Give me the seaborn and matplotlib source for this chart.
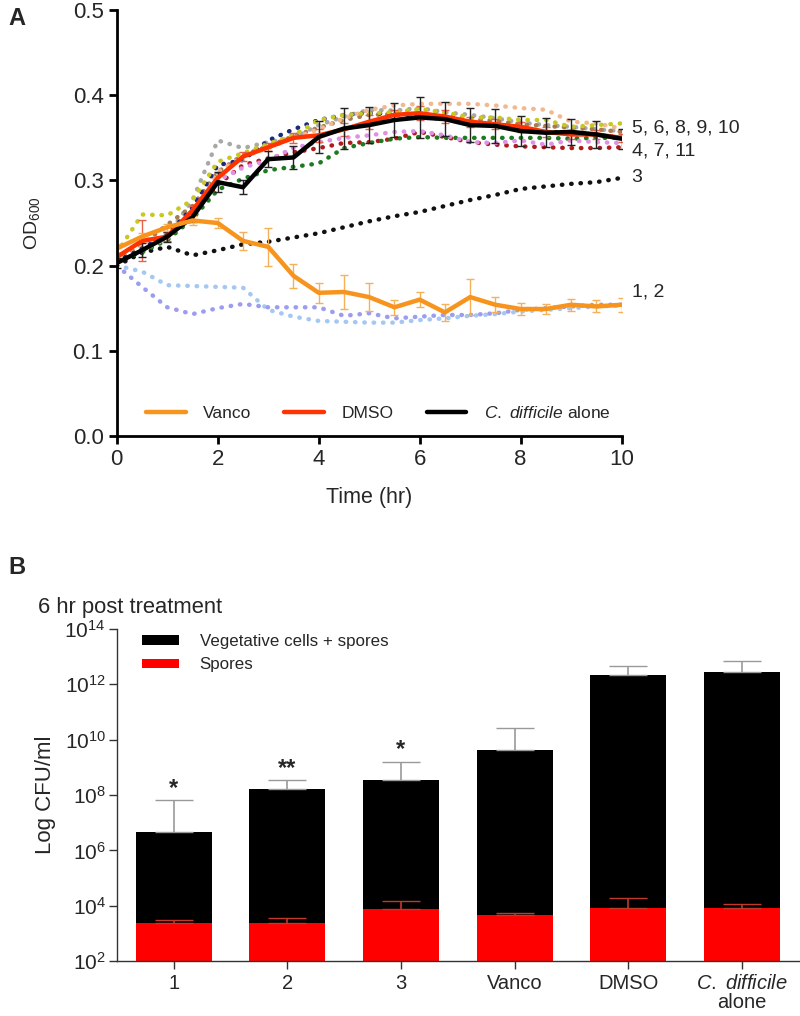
import numpy as np
import pandas as pd
import matplotlib
matplotlib.use("Agg")
import matplotlib.pyplot as plt
import seaborn as sns

# ---- panel A: growth curves (OD600) ----
hours = [0, 0.5, 1, 1.5, 2, 2.5, 3, 3.5, 4, 4.5, 5, 5.5, 6, 6.5, 7, 7.5, 8, 8.5, 9, 9.5, 10]

vanco = [0.220, 0.234, 0.245, 0.253, 0.250, 0.229, 0.222, 0.188, 0.168, 0.169, 0.163,
         0.151, 0.160, 0.145, 0.163, 0.154, 0.149, 0.149, 0.154, 0.152, 0.154]
vanco_err = [0.005, 0.004, 0.004, 0.005, 0.006, 0.011, 0.022, 0.014, 0.012, 0.020, 0.016,
             0.009, 0.009, 0.010, 0.021, 0.009, 0.007, 0.006, 0.007, 0.007, 0.008]
dmso = [0.210, 0.229, 0.234, 0.265, 0.303, 0.328, 0.339, 0.350, 0.353, 0.360, 0.369,
        0.377, 0.379, 0.375, 0.369, 0.366, 0.363, 0.357, 0.354, 0.354, 0.350]
dmso_err = [0.005, 0.024, 0.005, 0.005, 0.006, 0.005, 0.005, 0.006, 0.008, 0.008, 0.008,
            0.006, 0.008, 0.008, 0.006, 0.006, 0.006, 0.006, 0.005, 0.005, 0.005]
cd_alone = [0.203, 0.218, 0.234, 0.257, 0.298, 0.292, 0.325, 0.327, 0.351, 0.361, 0.365,
            0.371, 0.374, 0.372, 0.365, 0.364, 0.358, 0.356, 0.357, 0.354, 0.349]
cd_alone_err = [0.006, 0.008, 0.006, 0.006, 0.012, 0.008, 0.009, 0.014, 0.019, 0.024, 0.021,
                0.020, 0.024, 0.020, 0.020, 0.020, 0.018, 0.017, 0.015, 0.016, 0.012]

cmpd_1 = [0.200, 0.193, 0.177, 0.176, 0.175, 0.174, 0.148, 0.140, 0.135, 0.134, 0.133,
          0.133, 0.136, 0.138, 0.141, 0.143, 0.146, 0.148, 0.150, 0.152, 0.153]
cmpd_2 = [0.200, 0.175, 0.151, 0.143, 0.150, 0.155, 0.151, 0.151, 0.151, 0.141, 0.144,
          0.138, 0.140, 0.142, 0.142, 0.144, 0.148, 0.150, 0.152, 0.154, 0.154]
cmpd_3 = [0.200, 0.215, 0.222, 0.212, 0.218, 0.225, 0.228, 0.233, 0.238, 0.245, 0.252,
          0.258, 0.263, 0.270, 0.277, 0.283, 0.290, 0.293, 0.296, 0.298, 0.303]
cmpd_4 = [0.205, 0.220, 0.232, 0.260, 0.295, 0.318, 0.326, 0.333, 0.338, 0.344, 0.345,
          0.349, 0.357, 0.351, 0.345, 0.342, 0.340, 0.339, 0.338, 0.338, 0.339]
cmpd_7 = [0.205, 0.216, 0.230, 0.255, 0.289, 0.302, 0.312, 0.316, 0.320, 0.338, 0.344,
          0.349, 0.351, 0.350, 0.350, 0.350, 0.350, 0.350, 0.349, 0.350, 0.350]
cmpd_11 = [0.205, 0.218, 0.232, 0.262, 0.300, 0.315, 0.324, 0.338, 0.345, 0.350, 0.353,
           0.357, 0.358, 0.353, 0.345, 0.344, 0.347, 0.342, 0.347, 0.345, 0.344]
cmpd_5 = [0.205, 0.220, 0.236, 0.268, 0.318, 0.324, 0.347, 0.360, 0.371, 0.377, 0.379,
          0.378, 0.375, 0.372, 0.368, 0.364, 0.359, 0.357, 0.356, 0.354, 0.350]
cmpd_6 = [0.215, 0.260, 0.259, 0.277, 0.322, 0.332, 0.343, 0.353, 0.371, 0.377, 0.379,
          0.380, 0.384, 0.380, 0.374, 0.374, 0.371, 0.371, 0.363, 0.365, 0.367]
cmpd_8 = [0.205, 0.220, 0.235, 0.277, 0.347, 0.338, 0.345, 0.350, 0.365, 0.375, 0.383,
          0.382, 0.385, 0.380, 0.377, 0.373, 0.368, 0.365, 0.363, 0.360, 0.358]
cmpd_9 = [0.205, 0.222, 0.238, 0.265, 0.310, 0.328, 0.338, 0.350, 0.360, 0.373, 0.383,
          0.388, 0.390, 0.390, 0.390, 0.388, 0.385, 0.383, 0.369, 0.367, 0.361]
cmpd_10 = [0.205, 0.225, 0.248, 0.270, 0.310, 0.330, 0.340, 0.352, 0.362, 0.371, 0.377,
           0.378, 0.378, 0.376, 0.372, 0.370, 0.366, 0.364, 0.362, 0.360, 0.357]

dotted_series = [
    (cmpd_1, "#a4c8f2"), (cmpd_2, "#9c9cf0"), (cmpd_3, "#111111"),
    (cmpd_4, "#b01c1c"), (cmpd_7, "#1e7a1e"), (cmpd_11, "#e090e8"),
    (cmpd_8, "#a8a8a8"), (cmpd_10, "#a87c50"), (cmpd_9, "#f2b890"),
    (cmpd_5, "#1a2a80"), (cmpd_6, "#c8c820"),
]
end_labels = ["5, 6, 8, 9, 10", "4, 7, 11", "3", "1, 2"]
end_label_y = [0.362, 0.335, 0.303, 0.169]

# ---- panel B: CFU at 6 hr ----
groups = ["1", "2", "3", "Vanco", "DMSO", "C. difficile alone"]
group_ticklabels = ["1", "2", "3", "Vanco", "DMSO", r"$\mathit{C.}$ $\mathit{difficile}$" + "\nalone"]
total_cfu = [4.5e6, 1.6e8, 3.4e8, 4.2e9, 2.1e12, 2.7e12]
total_sd = [6.05e7, 1.8e8, 1.26e9, 2.18e10, 2.4e12, 4.0e12]
spore_cfu = [2.4e3, 2.4e3, 7.5e3, 4.6e3, 8.1e3, 8.1e3]
spore_sd = [0.6e3, 1.1e3, 7.5e3, 0.8e3, 1.09e4, 3.9e3]
stars = ["*", "**", "*", "", "", ""]

sns.set_theme(style="ticks")
plt.rcParams["font.family"] = ["Liberation Sans", "DejaVu Sans"]
plt.rcParams["mathtext.fontset"] = "custom"
plt.rcParams["mathtext.rm"] = "Liberation Sans"
plt.rcParams["mathtext.it"] = "Liberation Sans:italic"
plt.rcParams["mathtext.bf"] = "Liberation Sans:bold"

fig = plt.figure(figsize=(8, 10.16), dpi=100)
ax1 = fig.add_axes([0.146, 0.571, 0.631, 0.419])
ax2 = fig.add_axes([0.146, 0.054, 0.8525, 0.327])

# panel A
for vals, col in dotted_series:
    sns.lineplot(x=hours, y=vals, ax=ax1, color=col, lw=3.2,
                 linestyle=(0, (0.1, 2.0)), dash_capstyle="round", label="_nolegend_")

ax1.errorbar(hours, dmso, yerr=dmso_err, fmt="none", ecolor="#e8604a", elinewidth=1, capsize=3)
ax1.errorbar(hours, cd_alone, yerr=cd_alone_err, fmt="none", ecolor="#222222", elinewidth=1, capsize=3)
ax1.errorbar(hours, vanco, yerr=vanco_err, fmt="none", ecolor="#f5b15a", elinewidth=1, capsize=3)
sns.lineplot(x=hours, y=dmso, ax=ax1, color="#ff3300", lw=3.2, label="DMSO")
sns.lineplot(x=hours, y=cd_alone, ax=ax1, color="black", lw=3.2,
             label=r"$\mathit{C.}$ $\mathit{difficile}$ alone")
sns.lineplot(x=hours, y=vanco, ax=ax1, color="#f7941d", lw=3.2, label="Vanco")

for txt, yv in zip(end_labels, end_label_y):
    ax1.text(10.2, yv, txt, fontsize=14, va="center", ha="left", clip_on=False)

ax1.set_xlim(0, 10)
ax1.set_ylim(0, 0.5)
ax1.set_xticks([0, 2, 4, 6, 8, 10])
ax1.set_yticks([0.0, 0.1, 0.2, 0.3, 0.4, 0.5])
ax1.set_yticklabels(["0.0", "0.1", "0.2", "0.3", "0.4", "0.5"])
ax1.set_xlabel("Time (hr)", fontsize=15.5, labelpad=12)
ax1.set_ylabel("OD$_{600}$", fontsize=14, labelpad=22)
ax1.tick_params(labelsize=16, width=2, length=6, color="black")
for s in ["top", "right"]:
    ax1.spines[s].set_visible(False)
for s in ["left", "bottom"]:
    ax1.spines[s].set_linewidth(2)
    ax1.spines[s].set_color("black")

h, l = ax1.get_legend_handles_labels()
order = [l.index("Vanco"), l.index("DMSO"), [i for i, x in enumerate(l) if "alone" in x][0]]
ax1.legend([h[i] for i in order], [l[i] for i in order], ncol=3, frameon=False,
           loc="center left", bbox_to_anchor=(0.057, 0.054), borderaxespad=0, borderpad=0,
           fontsize=12.5, handlelength=2.3, handletextpad=1.0, columnspacing=1.9)

# panel B
df = pd.DataFrame({"group": groups, "total": total_cfu, "spores": spore_cfu})
ax2.set_yscale("log")
sns.barplot(data=df, x="group", y="total", color="black", width=0.67, ax=ax2,
            errorbar=None, saturation=1, linewidth=0, label="Vegetative cells + spores")
sns.barplot(data=df, x="group", y="spores", color="#ff0000", width=0.67, ax=ax2,
            errorbar=None, saturation=1, linewidth=0, label="Spores")
xpos = list(range(len(groups)))
ax2.errorbar(xpos, total_cfu, yerr=[[0] * len(groups), total_sd], fmt="none",
             ecolor="#999999", elinewidth=1.2, capsize=13.5)
ax2.errorbar(xpos, spore_cfu, yerr=[[0] * len(groups), spore_sd], fmt="none",
             ecolor="#c0392b", elinewidth=1.2, capsize=13.5)
for x, s, top, sd in zip(xpos, stars, total_cfu, total_sd):
    if s:
        ax2.text(x, (top + sd) * 1.05, s, ha="center", va="bottom", fontsize=17, fontweight="bold")

ax2.set_ylim(1e2, 1e14)
ax2.set_xlim(-0.5, 5.5)
ax2.set_yticks([1e2, 1e4, 1e6, 1e8, 1e10, 1e12, 1e14])
ax2.yaxis.set_minor_locator(matplotlib.ticker.NullLocator())
ax2.set_xticks(xpos)
ax2.set_xticklabels(group_ticklabels, linespacing=1.0)
ax2.set_xlabel("")
ax2.set_ylabel("Log CFU/ml", fontsize=16, labelpad=6)
ax2.tick_params(axis="y", labelsize=15, width=1, length=6, color="#333333", pad=2)
ax2.tick_params(axis="x", labelsize=14.5, width=1, length=6, color="#333333")
for s in ["top", "right"]:
    ax2.spines[s].set_visible(False)
for s in ["left", "bottom"]:
    ax2.spines[s].set_linewidth(1)
    ax2.spines[s].set_color("#333333")
ax2.legend(frameon=False, loc="upper left", bbox_to_anchor=(0.037, 0.985), borderaxespad=0,
           borderpad=0, fontsize=12.2, handlelength=2.2, handleheight=0.5, handletextpad=1.2,
           labelspacing=0.5)

fig.text(0.0475, 0.4016, "6 hr post treatment", fontsize=15.8, ha="left", va="center")
fig.text(0.01, 0.982, "A", fontsize=17, fontweight="bold", ha="left", va="center")
fig.text(0.01, 0.441, "B", fontsize=17, fontweight="bold", ha="left", va="center")

fig.savefig("out.png", dpi=100)
